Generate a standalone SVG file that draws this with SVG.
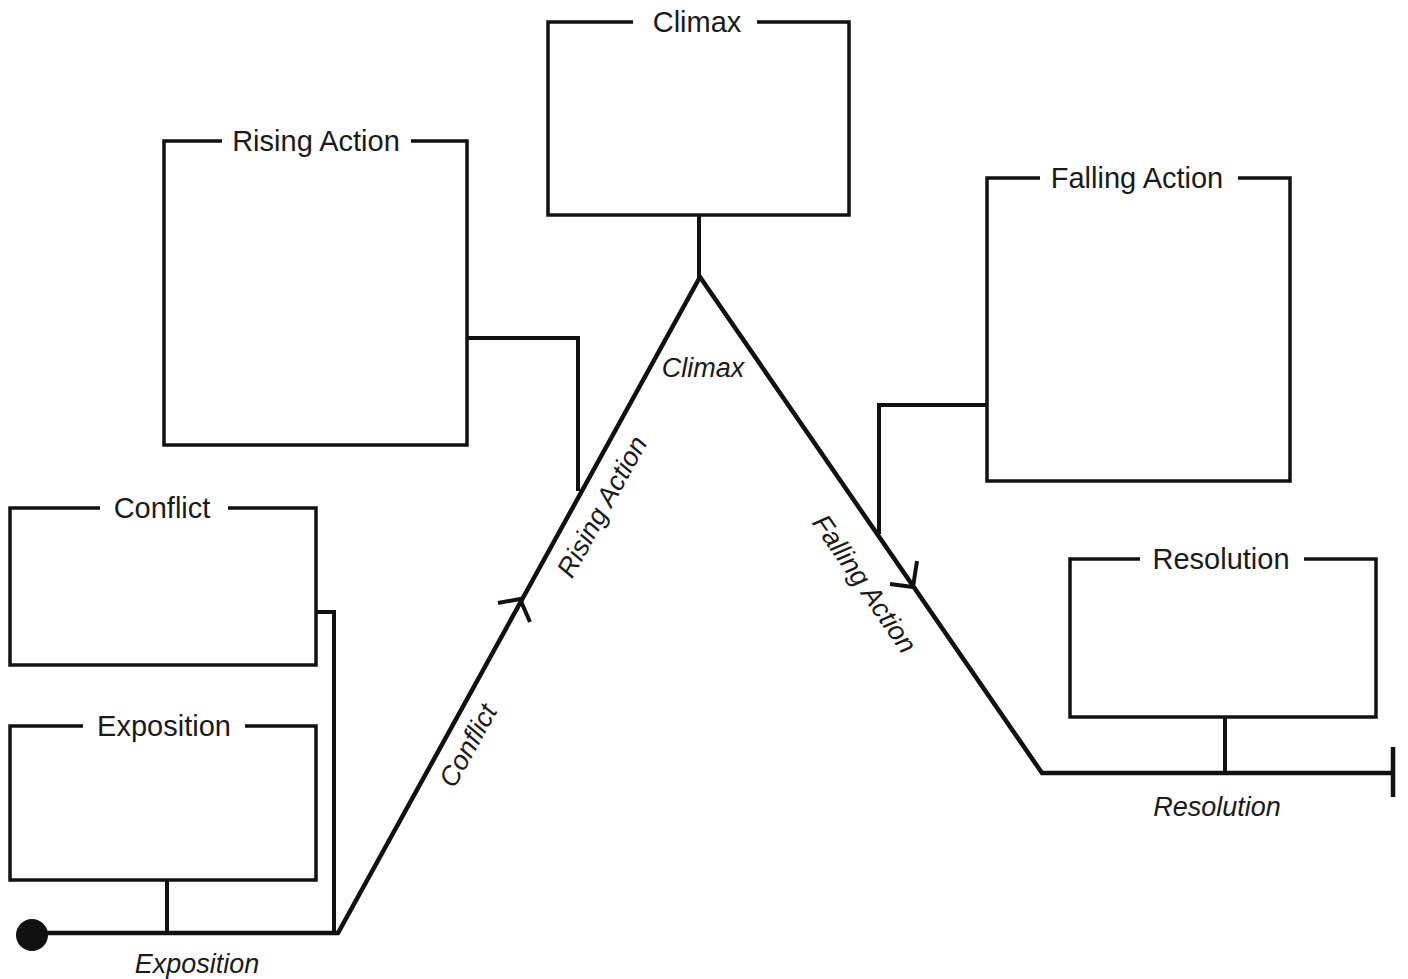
<svg xmlns="http://www.w3.org/2000/svg" width="1408" height="979" viewBox="0 0 1408 979">
<style>
.box{fill:none;stroke:#111;stroke-width:3.5;stroke-linejoin:miter}
.ttl{font-family:"Liberation Sans",Arial,sans-serif;font-size:29px;fill:#1a1a1a;text-anchor:middle}
.lbl{font-family:"Liberation Sans",Arial,sans-serif;font-size:27px;font-style:italic;fill:#1a1a1a;text-anchor:middle}
.ln{fill:none;stroke:#111;stroke-width:4.5;stroke-linejoin:miter;stroke-linecap:butt}
.cn{fill:none;stroke:#111;stroke-width:4;stroke-linejoin:miter}
</style>
<rect width="1408" height="979" fill="#fff"/>
<g id="connectors">
  <path class="ln" d="M32,933 L338,933 L700,277 L1042,773 L1393,773"/>
  <path class="ln" d="M1393,747 L1393,797"/>
  <circle cx="32" cy="935" r="16" fill="#111"/>
  <path class="cn" d="M498,603 L520,599 L530,622"/>
  <path class="cn" d="M890,584 L913,587 L917,561"/>
  <path class="cn" d="M699,215 L699,278"/>
  <path class="cn" d="M467,338 L578,338 L578,491"/>
  <path class="cn" d="M316,612 L334,612 L334,933"/>
  <path class="cn" d="M167,880 L167,933"/>
  <path class="cn" d="M987,405 L879,405 L879,534"/>
  <path class="cn" d="M1225,717 L1225,773"/>
  <text class="lbl" x="197" y="973">Exposition</text>
  <text class="lbl" transform="translate(476,750) rotate(-61)" x="0" y="0">Conflict</text>
  <text class="lbl" transform="translate(610,511) rotate(-61)" x="0" y="0">Rising Action</text>
  <text class="lbl" x="703" y="377">Climax</text>
  <text class="lbl" transform="translate(857,589) rotate(55.4)" x="0" y="0">Falling Action</text>
  <text class="lbl" x="1217" y="816">Resolution</text>
</g>
<g id="climax">
  <path class="box" d="M633,22 L548,22 L548,215 L849,215 L849,22 L757,22"/>
  <text class="ttl" x="697" y="32">Climax</text>
</g>
<g id="rising-action">
  <path class="box" d="M222,141 L164,141 L164,445 L467,445 L467,141 L411,141"/>
  <text class="ttl" x="316" y="151">Rising Action</text>
</g>
<g id="falling-action">
  <path class="box" d="M1040,178 L987,178 L987,481 L1290,481 L1290,178 L1238,178"/>
  <text class="ttl" x="1137" y="188">Falling Action</text>
</g>
<g id="conflict">
  <path class="box" d="M100,508 L10,508 L10,665 L316,665 L316,508 L228,508"/>
  <text class="ttl" x="162" y="518">Conflict</text>
</g>
<g id="exposition">
  <path class="box" d="M83,726 L10,726 L10,880 L316,880 L316,726 L245,726"/>
  <text class="ttl" x="164" y="736">Exposition</text>
</g>
<g id="resolution">
  <path class="box" d="M1140,559 L1070,559 L1070,717 L1376,717 L1376,559 L1304,559"/>
  <text class="ttl" x="1221" y="569">Resolution</text>
</g>
</svg>
